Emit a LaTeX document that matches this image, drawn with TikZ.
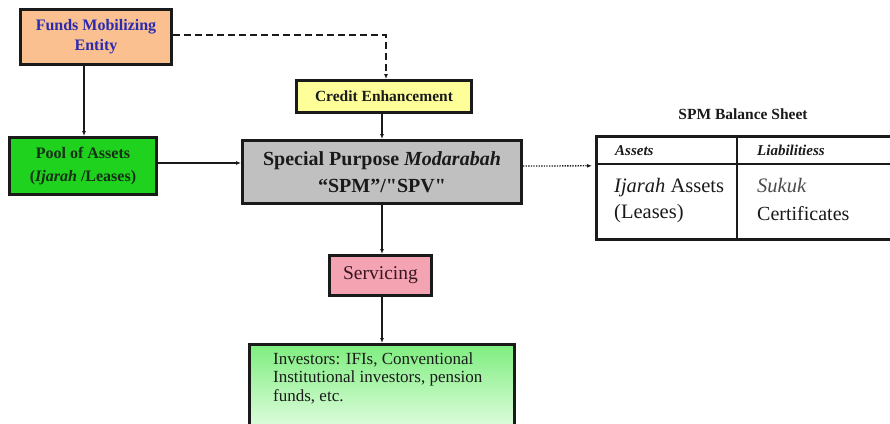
\documentclass[tikz,border=0pt]{standalone}
\usepackage{fontspec}
\setmainfont{Liberation Serif}[Ligatures=TeXOff]
\usetikzlibrary{arrows.meta}
\definecolor{fmefill}{HTML}{FAC090}
\definecolor{fmetext}{HTML}{2A2AB0}
\definecolor{cefill}{HTML}{FFFF99}
\definecolor{poolfill}{HTML}{1ED21E}
\definecolor{pooltext}{HTML}{163016}
\definecolor{spmfill}{HTML}{C0C0C0}
\definecolor{servfill}{HTML}{F4A3B3}
\definecolor{servtext}{HTML}{3A1520}
\definecolor{invtop}{HTML}{7EEE7E}
\definecolor{invbot}{HTML}{F2FFF2}
\definecolor{ink}{HTML}{1A1A1A}
\begin{document}
\begin{tikzpicture}[x=1pt,y=-1pt,
  box/.style={draw=ink,line width=3pt,rectangle,inner sep=2pt},
  arr/.style={draw=ink,line width=1.1pt,-{Latex[length=5pt,width=4pt]}},
  dsh/.style={draw=ink,line width=1.6pt,dash pattern=on 7pt off 4pt,-{Latex[length=5pt,width=4pt]}},
  dot/.style={draw=ink,line width=1.3pt,dash pattern=on 1.3pt off 1.3pt,-{Latex[length=5pt,width=4pt]}},
  tline/.style={draw=ink,line width=2.6pt}]
\useasboundingbox (0,0) rectangle (890,423);
\fill[white] (0,0) rectangle (890,423);

% flow boxes
\node[box,fill=fmefill,minimum width=151,minimum height=55,align=center,
      text=fmetext,font=\bfseries\fontsize{16}{20}\selectfont] (fme) at (96,37) {Funds Mobilizing\\Entity};
\node[box,fill=cefill,minimum width=175,minimum height=32,text=ink,
      font=\bfseries\fontsize{15.5}{18}\selectfont] (ce) at (384,96.5) {Credit Enhancement};
\node[box,fill=poolfill,minimum width=147,minimum height=57,align=center,text=pooltext,
      font=\bfseries\fontsize{16}{23}\selectfont] (pool) at (83,166) {Pool of Assets\\(\textit{Ijarah} /Leases)};
\node[box,fill=spmfill,minimum width=279,minimum height=63,align=center,text=ink,
      font=\bfseries\fontsize{20}{27}\selectfont] (spm) at (382,172) {Special Purpose \textit{Modarabah}\\“SPM”/"SPV"};
\node[box,fill=servfill,minimum width=102,minimum height=40,text=servtext,
      font=\fontsize{19.5}{22}\selectfont] (serv) at (380.5,275.5) {Servicing};
\node[box,top color=invtop,bottom color=invbot,minimum width=265,minimum height=100,anchor=north] (inv) at (382,343) {};
\node[anchor=north west,align=left,inner sep=0,text=ink,
      font=\fontsize{17}{18.5}\selectfont] (invtxt) at (273,352) {Investors: IFIs, Conventional\\Institutional investors, pension\\funds, etc.};

% balance sheet
\node[anchor=base,text=ink,font=\bfseries\fontsize{15.5}{18}\selectfont] (bstitle) at (743,119) {SPM Balance Sheet};
\node[draw=ink,line width=2.6pt,minimum width=300,minimum height=103,anchor=north west] (bs) at (595,135) {};
\draw[tline] (596.3,164) -- (893,164);
\draw[tline] (737,135) -- (737,241);
\node[anchor=base west,inner sep=0,text=ink,font=\bfseries\itshape\fontsize{15}{18}\selectfont] (hA) at (615,155) {Assets};
\node[anchor=base west,inner sep=0,text=ink,font=\bfseries\itshape\fontsize{15}{18}\selectfont] (hL) at (757,155) {Liabilitiess};
\node[anchor=base west,inner sep=0,text=ink,font=\fontsize{20.5}{24}\selectfont] (cA1) at (614,192) {\textit{Ijarah} Assets};
\node[anchor=base west,inner sep=0,text=ink,font=\fontsize{20.5}{24}\selectfont] (cA2) at (614,218) {(Leases)};
\node[anchor=base west,inner sep=0,text=black!70,font=\itshape\fontsize{20.5}{24}\selectfont] (cL1) at (757,192) {Sukuk};
\node[anchor=base west,inner sep=0,text=ink,font=\fontsize{20}{24}\selectfont] (cL2) at (757,220) {Certificates};

% connectors
\draw[dsh] ([yshift=2]fme.east) -| ([xshift=2]ce.north);
\draw[arr] ([xshift=-12]fme.south) -- ([xshift=1]pool.north);
\draw[arr] (ce.south -| spm.north) -- (spm.north);
\draw[arr] ([yshift=3]pool.east) -- ([yshift=9]spm.west);
\draw[dot,shorten >=3pt] ([yshift=6]spm.east) -- ([yshift=22]bs.west);
\draw[arr] (spm.south) -- (spm.south |- serv.north);
\draw[arr] (serv.south -| spm.south) -- (spm.south |- inv.north);
\end{tikzpicture}
\end{document}
